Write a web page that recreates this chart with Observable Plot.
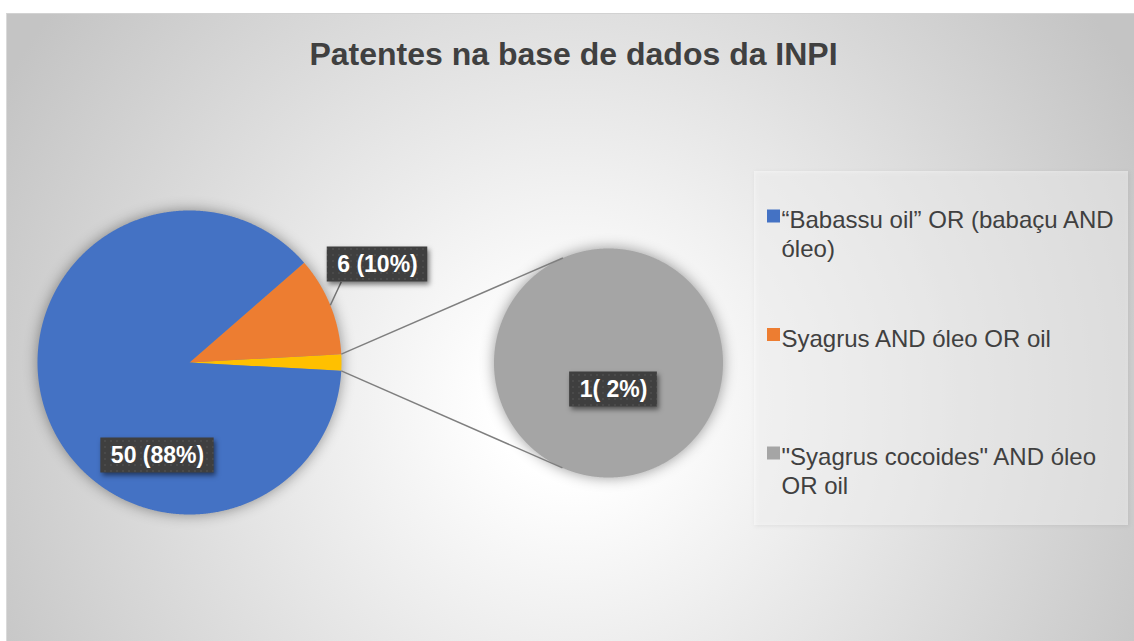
<!DOCTYPE html>
<html>
<head>
<meta charset="utf-8">
<script src="https://cdn.jsdelivr.net/npm/d3@7"></script>
<script src="https://cdn.jsdelivr.net/npm/@observablehq/plot@0.6"></script>
<style>
  html, body { margin: 0; padding: 0; background: #ffffff; }
  #wrap { position: relative; width: 1134px; height: 641px; overflow: hidden; background: #ffffff; }
  #area {
    position: absolute; left: 6px; top: 13px; width: 1128px; height: 628px; box-sizing: border-box;
    border-top: 1px solid #d2d2d2; border-left: 1px solid #dadada;
    background: radial-gradient(circle 650px at 564px 388px, #ffffff 0%, #ffffff 12%, #c4c4c4 100%);
  }
  #chart { position: absolute; left: 0; top: 0; }
  #chart svg { overflow: visible; }
</style>
</head>
<body>
<div id="wrap"><div id="area"></div><div id="chart"></div></div>
<script>
// ---------- data ----------
const title = "Patentes na base de dados da INPI";
const categories = [
  "“Babassu oil” OR (babaçu AND óleo)",
  "Syagrus AND óleo OR oil",
  "\"Syagrus cocoides\" AND óleo OR oil"
];
const values = [50, 6, 1];
const labels = ["50 (88%)", "6 (10%)", "1( 2%)"];
const colors = ["#4472C4", "#ED7D31", "#A5A5A5"];
const otherColor = "#FFC000";
const secondPieIdx = [2];          // categories split into the second pie

// ---------- layout ----------
const W = 1134, H = 641;
const mainPie = {cx: 189, cy: 362, r: 152};
const subPie = {cx: 608, cy: 362.5, r: 114.5};
// label box centre offsets relative to the pie centre holding the slice
const labelOffsets = [[-32, 93], [188, -98], [5, 26.5]];
const font = "'Liberation Sans', Arial, Helvetica, sans-serif";
const labelFs = 23, legendFs = 24, titleFs = 32;
const boxFill = "#404040";
const legend = {x1: 754, x2: 1128, y1: 171, y2: 525, markerX: 767, markerSize: 13, textX: 781, firstCapTop: 208, step: 118.5, maxW: 345, lineH: 1.17};

// ---------- geometry helpers ----------
const ctx = document.createElement("canvas").getContext("2d");
function textW(t, f) { ctx.font = f; return ctx.measureText(t).width; }
function wrap(t, f, maxW) {
  const words = t.split(" "); const lines = []; let cur = "";
  for (const w of words) {
    const test = cur ? cur + " " + w : w;
    if (cur && textW(test, f) > maxW) { lines.push(cur); cur = w; } else cur = test;
  }
  if (cur) lines.push(cur);
  return lines.join("\n");
}
function arcPts(key, color, c, a0, a1) {
  const pts = [];
  const full = a1 - a0 >= 2 * Math.PI - 1e-9;
  if (!full) pts.push({key, color, x: c.cx, y: c.cy});
  const n = Math.max(2, Math.ceil((a1 - a0) / (Math.PI / 720)));
  for (let i = 0; i <= n; i++) {
    const a = a0 + (a1 - a0) * i / n;
    pts.push({key, color, x: c.cx + c.r * Math.cos(a), y: c.cy - c.r * Math.sin(a)});
  }
  return pts;
}

// main pie: "other" slice centred on the right, then the rest counter‑clockwise
const total = d3.sum(values);
const otherVal = d3.sum(secondPieIdx, i => values[i]);
const mainIdx = values.map((_, i) => i).filter(i => !secondPieIdx.includes(i));
const otherSpan = 2 * Math.PI * otherVal / total;
const slices = [];
const sliceMid = {};
let a = -otherSpan / 2;
slices.push(...arcPts("other", otherColor, mainPie, a, a + otherSpan));
a += otherSpan;
for (const i of mainIdx.slice().reverse()) {
  const span = 2 * Math.PI * values[i] / total;
  slices.push(...arcPts("m" + i, colors[i], mainPie, a, a + span));
  sliceMid[i] = a + span / 2;
  a += span;
}
// second pie
let b = Math.PI / 2;
for (const i of secondPieIdx) {
  const span = 2 * Math.PI * values[i] / otherVal;
  slices.push(...arcPts("s" + i, colors[i], subPie, b, b + span));
  b += span;
}

// connector lines: edges of the "other" slice to tangent points of second pie
function tangent(px, py, c, upper) {
  const d = Math.hypot(px - c.cx, py - c.cy);
  const base = Math.atan2(py - c.cy, px - c.cx);
  const al = Math.acos(c.r / d);
  const p1 = {x: c.cx + c.r * Math.cos(base + al), y: c.cy + c.r * Math.sin(base + al)};
  const p2 = {x: c.cx + c.r * Math.cos(base - al), y: c.cy + c.r * Math.sin(base - al)};
  return upper ? (p1.y < p2.y ? p1 : p2) : (p1.y > p2.y ? p1 : p2);
}
const connectors = [+1, -1].map(s => {
  const ang = s * otherSpan / 2;
  const px = mainPie.cx + mainPie.r * Math.cos(ang), py = mainPie.cy - mainPie.r * Math.sin(ang);
  const t = tangent(px, py, subPie, s > 0);
  return {x1: px, y1: py, x2: t.x, y2: t.y};
});

// data labels
const labelFont = `bold ${labelFs}px ${font}`;
const labelData = labels.map((t, i) => {
  const c = secondPieIdx.includes(i) ? subPie : mainPie;
  const x = c.cx + labelOffsets[i][0], y = c.cy + labelOffsets[i][1];
  const w = textW(t, labelFont);
  return {text: t, i, x, y, x1: x - w / 2 - 10, x2: x + w / 2 + 10, y1: y - 17.5, y2: y + 17.5,
          outside: Math.hypot(labelOffsets[i][0], labelOffsets[i][1]) > c.r};
});
const leaders = labelData.filter(d => d.outside).map(d => {
  const m = sliceMid[d.i];
  return {x1: mainPie.cx + mainPie.r * Math.cos(m), y1: mainPie.cy - mainPie.r * Math.sin(m), x2: d.x1 + 14, y2: d.y2};
});

// legend
const legendFont = `${legendFs}px ${font}`;
const legendData = categories.map((c, i) => ({
  text: wrap(c, legendFont, legend.maxW), color: colors[i],
  capTop: legend.firstCapTop + i * legend.step
}));

const chart = Plot.plot({
  width: W, height: H, margin: 0,
  x: {domain: [0, W], range: [0, W], axis: null},
  y: {domain: [0, H], range: [0, H], axis: null},
  color: {type: "identity"},
  style: {background: "transparent", fontFamily: font},
  marks: [
    // legend box
    Plot.rect([legend], {x1: "x1", x2: "x2", y1: "y1", y2: "y2", fill: "#ffffff", fillOpacity: 0.45}),
    // slices
    Plot.line(slices, {x: "x", y: "y", z: "key", fill: "color", stroke: null, curve: "linear"}),
    // connectors and leader line
    Plot.link(connectors, {x1: "x1", y1: "y1", x2: "x2", y2: "y2", stroke: "#7f7f7f", strokeWidth: 1.5}),
    Plot.link(leaders, {x1: "x1", y1: "y1", x2: "x2", y2: "y2", stroke: "#737373", strokeWidth: 1.5}),
    // data label boxes + text
    Plot.rect(labelData, {x1: "x1", x2: "x2", y1: "y1", y2: "y2", fill: boxFill}),
    Plot.text(labelData, {x: "x", y: "y", text: "text", fill: "#ffffff", fontSize: labelFs, fontWeight: "bold", lineAnchor: "middle"}),
    // title
    Plot.text([title], {x: W / 2 + 6, y: 54, text: d => d, fill: "#404040", fontSize: titleFs, fontWeight: "bold", lineAnchor: "middle"}),
    // legend markers + text
    Plot.rect(legendData, {x1: legend.markerX, x2: legend.markerX + legend.markerSize,
      y1: d => d.capTop + 8 - legend.markerSize / 2, y2: d => d.capTop + 8 + legend.markerSize / 2, fill: "color"}),
    Plot.text(legendData, {x: legend.textX, y: "capTop", text: "text", fill: "#404040", fontSize: legendFs,
      textAnchor: "start", lineAnchor: "top", lineHeight: legend.lineH})
  ]
});

// patterned label boxes, soft shadows (select before adding the pattern defs)
const boxes = d3.select(chart).selectAll(`rect[fill="${boxFill}"], g[fill="${boxFill}"]`)
  .filter(function() { return !this.querySelector("text"); });
const ns = "http://www.w3.org/2000/svg";
const defs = document.createElementNS(ns, "defs");
defs.innerHTML = `<pattern id="dots" width="6" height="6" patternUnits="userSpaceOnUse">
  <rect width="6" height="6" fill="#3f3f3f"/><circle cx="3" cy="3" r="0.8" fill="#575757"/></pattern>`;
chart.prepend(defs);
boxes.attr("fill", "url(#dots)").style("filter", "drop-shadow(2px 3px 2.5px rgba(0,0,0,0.5))");
d3.select(chart).selectAll('g[aria-label="line"]').style("filter", "drop-shadow(0 0 7px rgba(0,0,0,0.4))");
d3.select(chart).selectAll('g[aria-label="rect"]').filter((d, i) => i === 0).style("filter", "drop-shadow(1px 1px 2px rgba(0,0,0,0.15))");

document.getElementById("chart").appendChild(chart);
</script>
</body>
</html>
